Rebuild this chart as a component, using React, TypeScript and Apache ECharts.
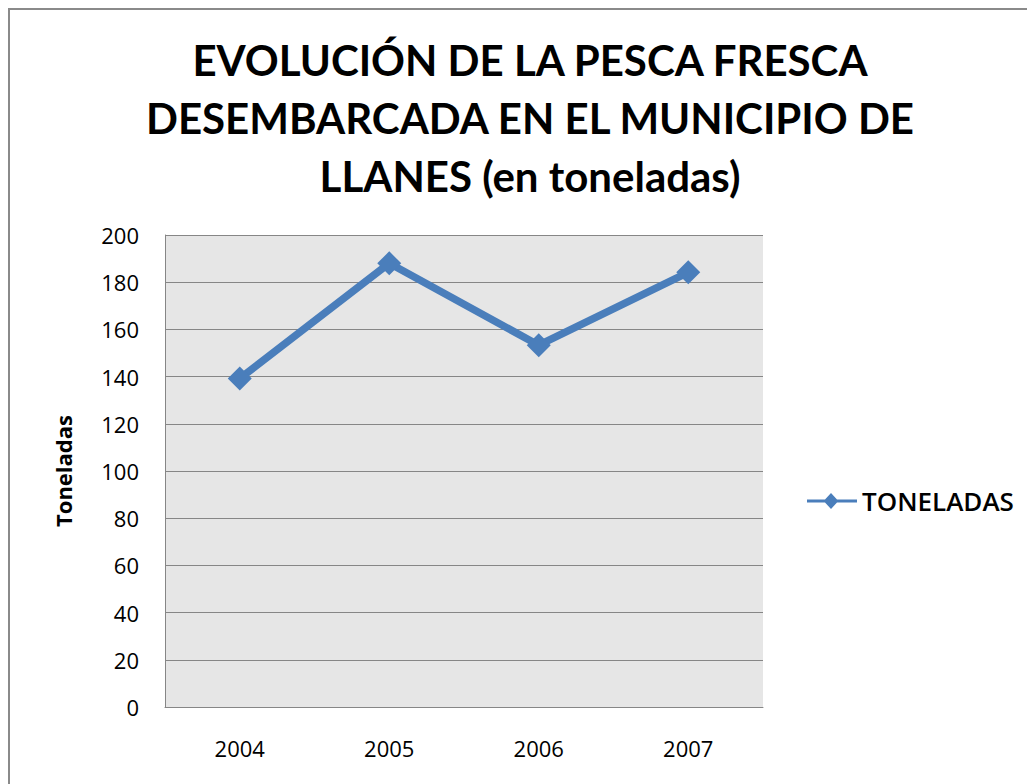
import React, { useEffect, useRef } from "react";
import * as echarts from "echarts";

const years = ["2004", "2005", "2006", "2007"];
const toneladas = [139.2, 188, 153.3, 184.2];
const titleLines = [
  "EVOLUCIÓN DE LA PESCA FRESCA",
  "DESEMBARCADA EN EL MUNICIPIO DE",
  "LLANES (en toneladas)",
];

export default function App() {
  const ref = useRef<HTMLDivElement>(null);
  useEffect(() => {
    const chart = echarts.init(ref.current!, null, { renderer: "svg" });
    chart.setOption({
      animation: false,
      backgroundColor: "#ffffff",
      title: {
        text: titleLines.join("\n"),
        left: 515,
        textAlign: "center",
        top: 16,
        textStyle: {
          fontFamily: "Lato",
          fontWeight: "bold",
          fontSize: 42,
          lineHeight: 58,
          color: "#000",
        },
      },
      legend: {
        left: 792,
        top: 473,
        itemWidth: 50,
        itemHeight: 20,
        itemGap: 10,
        textStyle: { fontFamily: "Open Sans", fontSize: 26, color: "#000", fontWeight: 600 },
        data: [{ name: "TONELADAS", icon: "path://M0,8.5 L18,8.5 L24,2 L30,8.5 L50,8.5 L50,11.5 L30,11.5 L24,18 L18,11.5 L0,11.5 Z" }],
      },
      grid: { left: 155, top: 225, width: 598, height: 472, backgroundColor: "#e6e6e6", show: true, borderWidth: 0 },
      xAxis: {
        type: "category",
        data: years,
        boundaryGap: true,
        axisLine: { show: true, lineStyle: { color: "#868686", width: 1 } },
        axisTick: { show: false },
        axisLabel: { fontFamily: "Open Sans", fontSize: 22, color: "#000", margin: 30 },
      },
      yAxis: {
        type: "value",
        min: 0,
        max: 200,
        interval: 20,
        name: "Toneladas",
        nameLocation: "middle",
        nameGap: 91,
        nameTextStyle: { fontFamily: "Open Sans", fontWeight: "bold", fontSize: 22, color: "#000" },
        axisLine: { show: true, lineStyle: { color: "#868686", width: 1 } },
        axisTick: { show: false },
        splitLine: { lineStyle: { color: "#868686", width: 1 } },
        axisLabel: { fontFamily: "Open Sans", fontSize: 22, color: "#000", margin: 26 },
      },
      series: [
        {
          name: "TONELADAS",
          type: "line",
          data: toneladas,
          symbol: "diamond",
          symbolSize: 24,
          lineStyle: { color: "#4a7ebb", width: 7.5 },
          itemStyle: { color: "#4a7ebb" },
        },
      ],
    });
    return () => chart.dispose();
  }, []);
  return (
    <div style={{ border: "2px solid #8a8a8a", width: 1040, height: 790 }}>
      <div ref={ref} style={{ width: 1040, height: 790 }} />
    </div>
  );
}
